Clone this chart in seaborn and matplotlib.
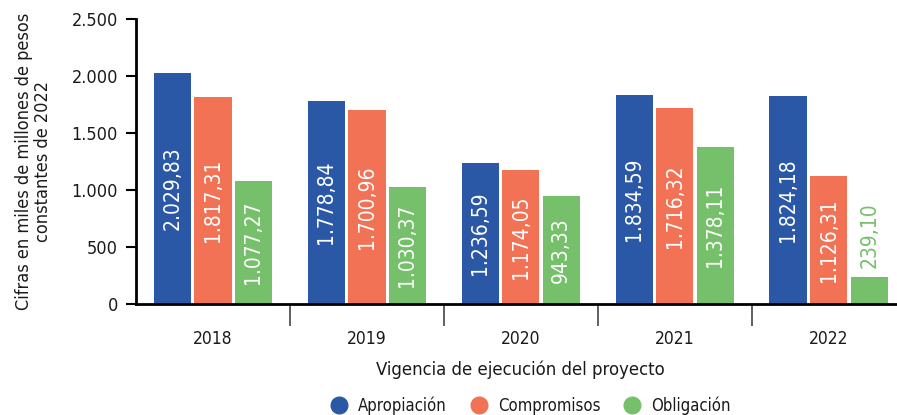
import matplotlib
matplotlib.use("Agg")
import matplotlib.pyplot as plt
import seaborn as sns
import pandas as pd
from matplotlib.lines import Line2D
from matplotlib.ticker import FuncFormatter, FixedLocator

years = ["2018", "2019", "2020", "2021", "2022"]
series = ["Apropiación", "Compromisos", "Obligación"]
apropiacion = [2029.83, 1778.84, 1236.59, 1834.59, 1824.18]
compromisos = [1817.31, 1700.96, 1174.05, 1716.32, 1126.31]
obligacion = [1077.27, 1030.37, 943.33, 1378.11, 239.10]
colors = ["#2B58A6", "#F27256", "#76C06B"]

rows = []
for s, vals in zip(series, [apropiacion, compromisos, obligacion]):
    for y, v in zip(years, vals):
        rows.append({"year": y, "serie": s, "valor": v})
df = pd.DataFrame(rows)

sns.set_style("white")
plt.rcParams["font.family"] = ["DejaVu Sans"]
plt.rcParams["font.stretch"] = "condensed"
plt.rcParams["text.color"] = "#1a1a1a"
plt.rcParams["axes.labelcolor"] = "#1a1a1a"
plt.rcParams["xtick.color"] = "#1a1a1a"
plt.rcParams["ytick.color"] = "#1a1a1a"

fig = plt.figure(figsize=(8.97, 4.15), dpi=100)
ax = fig.add_axes([0.1516, 0.2675, 0.858, 0.6867])
sns.barplot(data=df, x="year", y="valor", hue="serie", order=years, hue_order=series,
            palette=colors, width=0.79, gap=0.08, saturation=1, legend=False, ax=ax,
            errorbar=None, linewidth=0)

def fmt(v):
    s = f"{v:,.2f}"
    return s.replace(",", "X").replace(".", ",").replace("X", ".")

for cont in ax.containers:
    for bar in cont:
        h = bar.get_height()
        xc = bar.get_x() + bar.get_width() / 2
        txt = fmt(h)
        if h > 600:
            ax.text(xc, h / 2, txt, rotation=90, ha="center", va="center",
                    color="white", fontsize=15)
        else:
            ax.text(xc, h + 80, txt, rotation=90, ha="center", va="bottom",
                    color=bar.get_facecolor(), fontsize=15)

ax.set_ylim(0, 2500)
ax.set_xlim(-0.5, 4.5)
ax.set_yticks([0, 500, 1000, 1500, 2000, 2500])
ax.yaxis.set_major_formatter(FuncFormatter(lambda v, p: f"{int(v):,}".replace(",", ".")))
ax.xaxis.set_minor_locator(FixedLocator([0.5, 1.5, 2.5, 3.5]))
ax.tick_params(axis="x", which="major", length=0, labelsize=12.5, pad=19)
ax.tick_params(axis="x", which="minor", bottom=True, length=16, width=1.2,
               color="#444444", direction="out")
ax.tick_params(axis="y", left=True, length=7, width=1.5, color="black", labelsize=13,
               pad=6, direction="out")
for s in ["top", "right"]:
    ax.spines[s].set_visible(False)
for s in ["left", "bottom"]:
    ax.spines[s].set_linewidth(2)
    ax.spines[s].set_color("black")
ax.set_xlabel("Vigencia de ejecución del proyecto", fontsize=13.2, labelpad=9)
ax.set_ylabel("Cifras en miles de millones de pesos\nconstantes de 2022", fontsize=13,
              labelpad=14, linespacing=1.1)

handles = [Line2D([0], [0], marker="o", linestyle="", markersize=12, markerfacecolor=c,
                  markeredgecolor=c) for c in colors]
fig.legend(handles, series, loc="lower center", bbox_to_anchor=(0.587, -0.035), ncol=3,
           frameon=False, fontsize=12, handletextpad=0.15, columnspacing=0.9)

fig.savefig("out.png", dpi=100)
